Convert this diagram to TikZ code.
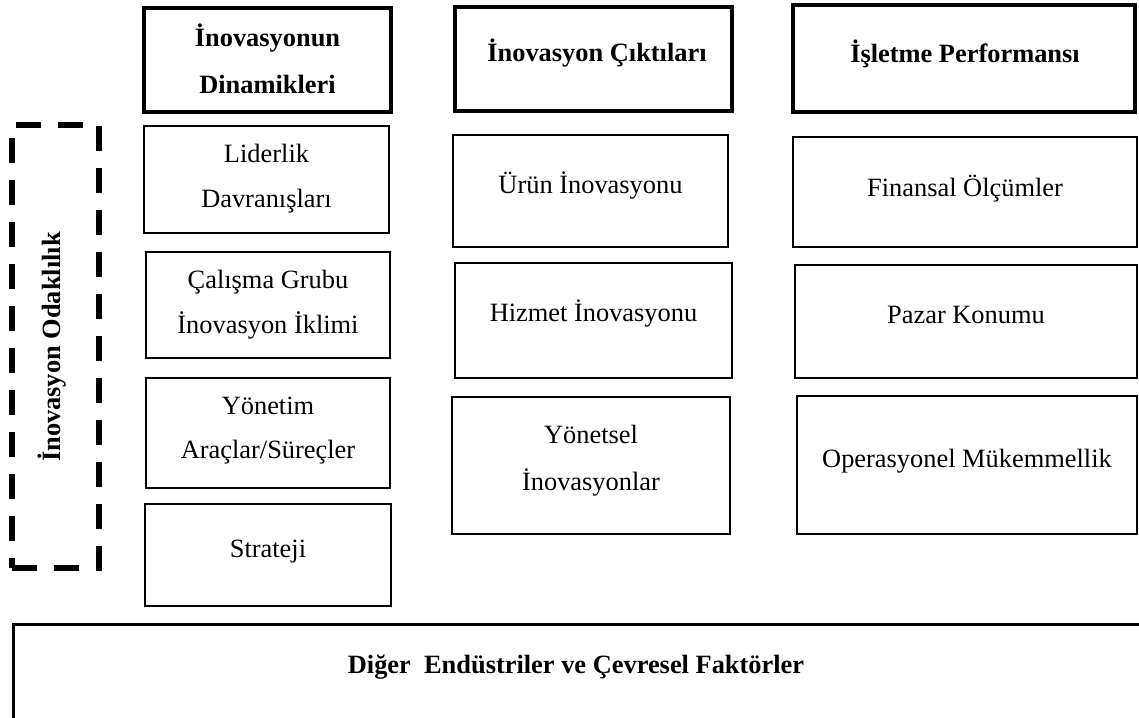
\documentclass[tikz,border=0pt]{standalone}
\usepackage{fontspec}
\setmainfont{Liberation Serif}
\begin{document}
\begin{tikzpicture}[x=1pt,y=-1pt,
  cell/.style={draw, line width=2.6pt, inner sep=0pt, fill=white},
  headcell/.style={cell, line width=4pt},
  txt/.style={anchor=base, inner sep=0pt, font=\fontsize{26.4}{30}\selectfont},
  headtxt/.style={txt, font=\fontsize{26.4}{30}\selectfont\bfseries}]
\useasboundingbox (0,0) rectangle (1139,717);

% surrounding environment band along the bottom
\begin{scope}
  \clip (0,0) rectangle (1139,717);
  \node[cell, line width=3pt, anchor=north west, minimum width=1150pt, minimum height=110pt] (env) at (12,623) {};
\end{scope}
\node[headtxt] (envtxt) at (576,673) {Diğer\ \ Endüstriler ve Çevresel Faktörler};

% innovation focus (dashed frame with vertical title)
\node[draw, line width=6pt, dash pattern=on 25pt off 17pt, inner sep=0pt,
      minimum width=87pt, minimum height=443pt] (focus) at (55.5,346.5) {};
\node[headtxt, rotate=90] (focustxt) at (60,347) {İnovasyon Odaklılık};

% column headers
\node[headcell, minimum width=247pt, minimum height=104pt] (h1) at (267.5,60) {};
\node[headcell, minimum width=277pt, minimum height=104pt] (h2) at (593.5,59) {};
\node[headcell, minimum width=342pt, minimum height=107pt] (h3) at (964,58.5) {};
\node[headtxt] (h1a) at (267.5,47) {İnovasyonun};
\node[headtxt] (h1b) at (267.5,93) {Dinamikleri};
\node[headtxt] (h2a) at (597,62) {İnovasyon Çıktıları};
\node[headtxt] (h3a) at (965,63) {İşletme Performansı};

% dynamics of innovation
\node[cell, minimum width=245pt, minimum height=107pt] (lid) at (266.5,179.5) {};
\node[cell, minimum width=244pt, minimum height=106pt] (cal) at (268,305) {};
\node[cell, minimum width=244pt, minimum height=110pt] (yon) at (268,433) {};
\node[cell, minimum width=246pt, minimum height=102pt] (str) at (268,555) {};
\node[txt] (lida) at (266.5,162) {Liderlik};
\node[txt] (lidb) at (266.5,207) {Davranışları};
\node[txt] (cala) at (268,288) {Çalışma Grubu};
\node[txt] (calb) at (268,333) {İnovasyon İklimi};
\node[txt] (yona) at (268,414) {Yönetim};
\node[txt] (yonb) at (268,458) {Araçlar/Süreçler};
\node[txt] (stra) at (268,557) {Strateji};

% innovation outputs
\node[cell, minimum width=275pt, minimum height=112pt] (urun) at (590.5,191) {};
\node[cell, minimum width=277pt, minimum height=115pt] (hiz) at (593.5,320.5) {};
\node[cell, minimum width=278pt, minimum height=137pt] (ysel) at (591,465.5) {};
\node[txt] (uruna) at (590.5,193) {Ürün İnovasyonu};
\node[txt] (hiza) at (593.5,321) {Hizmet İnovasyonu};
\node[txt] (ysela) at (591,443) {Yönetsel};
\node[txt] (yselb) at (591,490) {İnovasyonlar};

% business performance
\node[cell, minimum width=344pt, minimum height=110pt] (fin) at (965,192) {};
\node[cell, minimum width=342pt, minimum height=113pt] (paz) at (966,321.5) {};
\node[cell, minimum width=340pt, minimum height=138pt] (ops) at (967,465) {};
\node[txt] (fina) at (965,196) {Finansal Ölçümler};
\node[txt] (paza) at (966,323) {Pazar Konumu};
\node[txt] (opsa) at (967,467) {Operasyonel Mükemmellik};
\end{tikzpicture}
\end{document}
